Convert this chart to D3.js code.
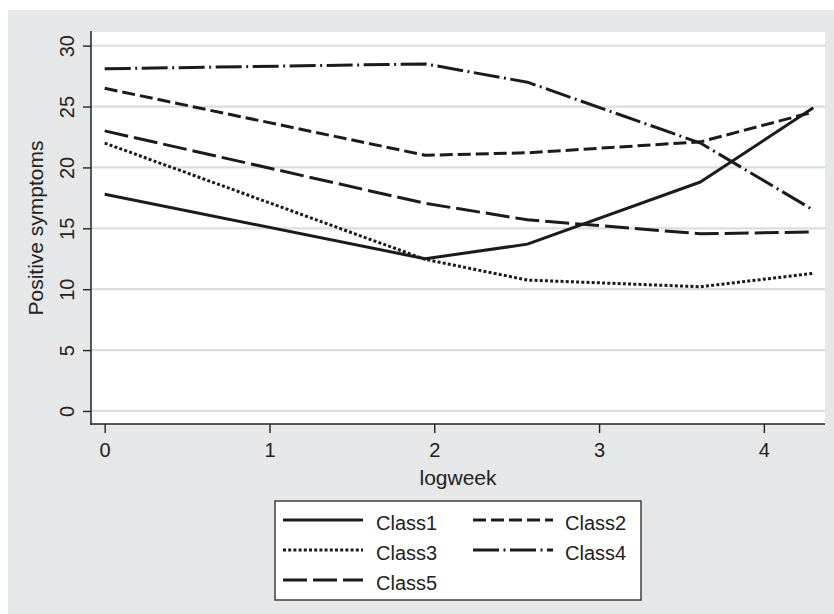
<!DOCTYPE html>
<html>
<head>
<meta charset="utf-8">
<script src="https://cdn.jsdelivr.net/npm/d3@7/dist/d3.min.js"></script>
<style>
  html, body { margin: 0; padding: 0; background: #ffffff; }
  svg { display: block; }
  text { font-family: "Liberation Sans", Arial, Helvetica, sans-serif; fill: #222; }
</style>
</head>
<body>
<svg id="chart" width="834" height="614"></svg>
<script>
// ---- data ----
const logweek = [0, 1.945, 2.565, 3.615, 4.30];
const class1 = [17.8, 12.5, 13.7, 18.8, 24.9];
const class2 = [26.5, 21.0, 21.2, 22.1, 24.55];
const class3 = [22.0, 12.45, 10.75, 10.2, 11.3];
const class4 = [28.1, 28.5, 27.0, 22.0, 16.5];
const class5 = [23.0, 17.05, 15.7, 14.55, 14.7];
const seriesNames = ["Class1", "Class2", "Class3", "Class4", "Class5"];
const xTicks = [0, 1, 2, 3, 4];
const yTicks = [0, 5, 10, 15, 20, 25, 30];
const xLabel = "logweek";
const yLabel = "Positive symptoms";

const seriesValues = [class1, class2, class3, class4, class5];
const dashes = ["none", "13,5", "3,2.2", "26,4.5,2,4.5", "24,6"];

const svg = d3.select("#chart");
const W = 834, H = 614;
const plot = { left: 91, right: 825, top: 32, bottom: 424 };

// outer gray background
svg.append("rect").attr("x", 8).attr("y", 10).attr("width", W - 8).attr("height", H - 10)
  .attr("fill", "#e6e7e8");
// plot area
svg.append("rect").attr("x", plot.left).attr("y", plot.top)
  .attr("width", plot.right - plot.left).attr("height", plot.bottom - plot.top)
  .attr("fill", "#ffffff");

const x = d3.scaleLinear().domain([-0.083, 4.371]).range([plot.left, plot.right]);
const y = d3.scaleLinear().domain([-1.07, 31.12]).range([plot.bottom, plot.top]);

// grid
svg.append("g").selectAll("line").data(yTicks).join("line")
  .attr("x1", plot.left).attr("x2", plot.right)
  .attr("y1", d => y(d)).attr("y2", d => y(d))
  .attr("stroke", "#dcdddf").attr("stroke-width", 2.2);

// y axis
const yAxis = svg.append("g").attr("transform", `translate(${plot.left},0)`)
  .call(d3.axisLeft(y).tickValues(yTicks).tickSize(8).tickPadding(0).tickSizeOuter(0));
yAxis.select(".domain").remove();
yAxis.selectAll(".tick line").attr("stroke", "#222").attr("stroke-width", 1.4);
yAxis.selectAll(".tick text")
  .attr("x", 0).attr("dy", 0)
  .attr("transform", "translate(-17,0) rotate(-90)")
  .attr("text-anchor", "middle")
  .style("font-size", "20px").attr("fill", "#222")
  .style("font-family", '"Liberation Sans", Arial, sans-serif');

// x axis
const xAxis = svg.append("g").attr("transform", `translate(0,${plot.bottom})`)
  .call(d3.axisBottom(x).tickValues(xTicks).tickFormat(d3.format("d")).tickSize(9).tickPadding(0).tickSizeOuter(0));
xAxis.select(".domain").remove();
xAxis.selectAll(".tick line").attr("stroke", "#222").attr("stroke-width", 1.4);
xAxis.selectAll(".tick text")
  .attr("y", 32.5).attr("dy", 0)
  .style("font-size", "20px").attr("fill", "#222")
  .style("font-family", '"Liberation Sans", Arial, sans-serif');

// axis lines
svg.append("line").attr("x1", plot.left).attr("x2", plot.left)
  .attr("y1", plot.top - 1).attr("y2", plot.bottom + 0.7)
  .attr("stroke", "#222").attr("stroke-width", 1.5);
svg.append("line").attr("x1", plot.left - 0.7).attr("x2", plot.right)
  .attr("y1", plot.bottom).attr("y2", plot.bottom)
  .attr("stroke", "#222").attr("stroke-width", 1.5);

// axis titles
svg.append("text").attr("x", (plot.left + plot.right) / 2).attr("y", 485)
  .attr("text-anchor", "middle").style("font-size", "21px").text(xLabel);
svg.append("text").attr("transform", `translate(43,${(plot.top + plot.bottom) / 2}) rotate(-90)`)
  .attr("text-anchor", "middle").style("font-size", "21px").text(yLabel);

// lines
const line = d3.line().x(d => x(d[0])).y(d => y(d[1]));
const g = svg.append("g");
seriesValues.forEach((vals, i) => {
  g.append("path")
    .datum(logweek.map((lw, j) => [lw, vals[j]]))
    .attr("d", line)
    .attr("fill", "none")
    .attr("stroke", "#1b1b1b")
    .attr("stroke-width", 3)
    .attr("stroke-linejoin", "round")
    .attr("stroke-dasharray", dashes[i]);
});

// legend
const lg = svg.append("g");
lg.append("rect").attr("x", 275).attr("y", 501).attr("width", 366).attr("height", 99)
  .attr("fill", "#ffffff").attr("stroke", "#333").attr("stroke-width", 1.4);
const legendPos = [
  { lx: 283, tx: 376, ly: 520 },
  { lx: 473, tx: 565, ly: 520 },
  { lx: 283, tx: 376, ly: 550 },
  { lx: 473, tx: 565, ly: 550 },
  { lx: 283, tx: 376, ly: 580 }
];
seriesNames.forEach((name, i) => {
  const p = legendPos[i];
  lg.append("line").attr("x1", p.lx).attr("x2", p.lx + 80)
    .attr("y1", p.ly).attr("y2", p.ly)
    .attr("stroke", "#1b1b1b").attr("stroke-width", 3)
    .attr("stroke-dasharray", dashes[i]);
  lg.append("text").attr("x", p.tx).attr("y", p.ly + 10)
    .style("font-size", "20px").text(name);
});
</script>
</body>
</html>
